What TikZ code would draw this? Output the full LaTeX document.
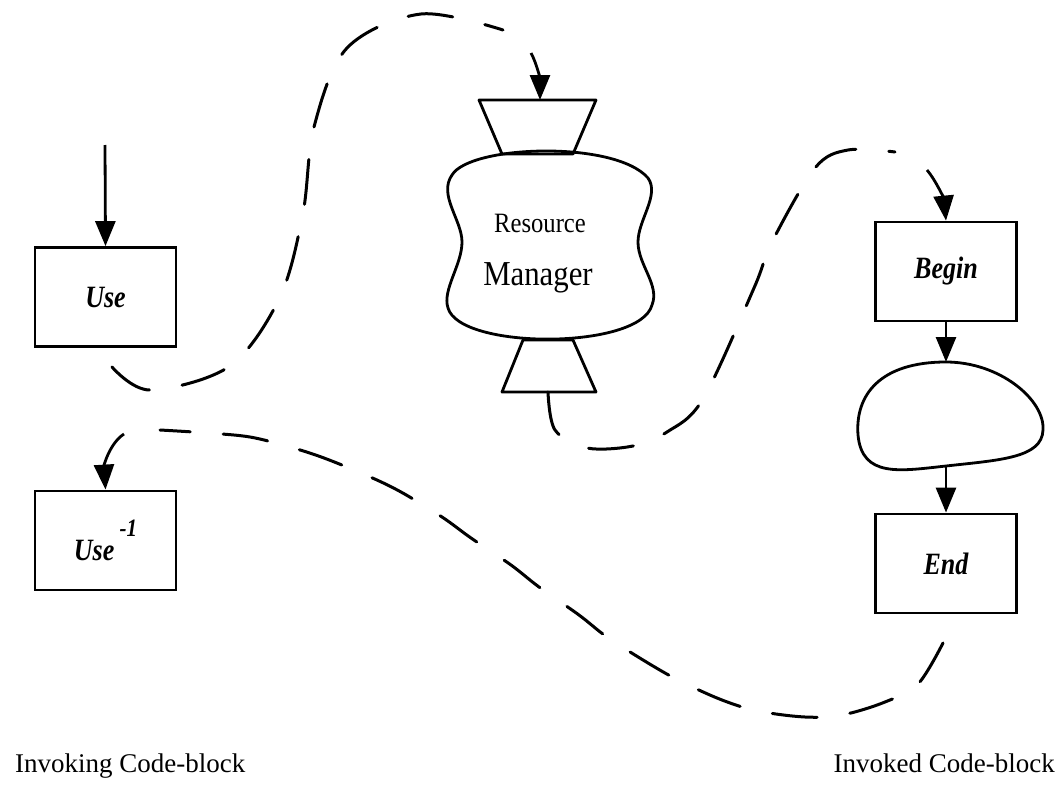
\documentclass[tikz,border=0pt]{standalone}
\usepackage{fontspec}
\setmainfont{Liberation Serif}
\newfontfamily\condserif[FakeStretch=0.88]{Liberation Serif}
\newfontfamily\boxserif[FakeStretch=0.84]{Liberation Serif}
\usetikzlibrary{arrows.meta}
\begin{document}
\begin{tikzpicture}[x=1pt,y=-1pt,
  every node/.style={inner sep=0pt},
  codebox/.style={draw,line width=2.8pt,minimum width=141pt,minimum height=99pt,
    font=\boxserif\bfseries\itshape\fontsize{31}{31}\selectfont},
  flow/.style={line width=2.8pt,-{Triangle[length=25pt,width=20pt]}},
  dashline/.style={line width=3pt,dash pattern=on 45pt off 33pt,line cap=round},
  shapeline/.style={line width=2.8pt,line join=round},
  caption/.style={font=\fontsize{27}{27}\selectfont},
  rmsmall/.style={font=\condserif\fontsize{28}{28}\selectfont},
  rmlarge/.style={font=\condserif\fontsize{35}{35}\selectfont}]
\useasboundingbox[fill=white] (0,0) rectangle (1058,787);

% boxes
\node[codebox] (use) at (105.5,297) {Use};
\node[codebox] (useinv) at (105.5,540.5) {Use\,\raisebox{24pt}{\fontsize{25}{25}\selectfont -1}};
\node[codebox] (begin) at (946,271.5) {Begin};
\node[codebox] (end) at (946,563.5) {End};

% resource manager
\draw[shapeline] (479,100) -- (596,100) -- (573,154) -- (502,154) -- cycle;
\draw[shapeline] (523,340) -- (573,340) -- (596,392) -- (502,392) -- cycle;
\draw[shapeline] (452,175) .. controls (470,145) and (615,140) .. (648,178)
  .. controls (660,195) and (638,220) .. (638,242)
  .. controls (638,265) and (660,285) .. (652,305)
  .. controls (640,350) and (460,350) .. (448,308)
  .. controls (442,290) and (462,265) .. (462,242)
  .. controls (462,220) and (438,195) .. (452,175) -- cycle;
\node[rmsmall,anchor=base] (rmA) at (540,232) {Resource};
\node[rmlarge,anchor=base] (rmB) at (538,285) {Manager};
\coordinate (rmin) at (540,100);
\coordinate (rmout) at (548,392);

% process blob
\draw[shapeline] (946,362) .. controls (1000,362) and (1045,400) .. (1043,430)
  .. controls (1042,458) and (1000,460) .. (946,466)
  .. controls (900,471) and (862,478) .. (858,435)
  .. controls (855,395) and (880,362) .. (946,362) -- cycle;
\coordinate (blobtop) at (946,362);
\coordinate (blobbot) at (946,467);

% solid flow arrows
\coordinate (usesrc) at (105,145);
\draw[flow] (usesrc) -- (use.north);
\draw[flow] (begin.south) -- (blobtop);
\draw[flow] (blobbot) -- (end.north);

% dashed path A: Use -> Resource Manager
\coordinate (a0) at (112,367);
\coordinate (a1) at (531,53);
\draw[dashline] plot[smooth,tension=0.55] coordinates {(a0) (150,390) (230,366) (280,297) (303,213) (314,127) (347,48) (421,14) (503,30)};
\draw[flow] (a1) .. controls (537,64) and (540,80) .. (rmin);

% dashed path B: Resource Manager -> Begin
\coordinate (b1) at (927,170);
\draw[dashline] plot[smooth,tension=0.55] coordinates {(rmout) (555,430) (587,448) (633,446) (667,432) (703,399) (754,288) (772,242) (815,168) (848,150) (895,152)};
\draw[flow] (b1) .. controls (937,182) and (944,200) .. (begin.north);

% dashed path C: End -> Use^-1
\coordinate (c0) at (943,643);
\coordinate (c1) at (124,434);
\draw[dashline] plot[smooth,tension=0.55] coordinates {(c0) (918,684) (885,702) (842,715) (805,717) (758,711) (722,700) (680,681) (648,663) (607,637) (579,615) (539,587) (511,565) (471,538) (442,517) (401,492) (368,476) (324,458) (290,447) (250,437) (208,433) (160,430)};
\draw[flow] (c1) .. controls (110,443) and (104,465) .. (useinv.north);

% captions
\node[caption,anchor=base west] (capL) at (15,772) {Invoking Code-block};
\node[caption,anchor=base east] (capR) at (1055,772) {Invoked Code-block};
\end{tikzpicture}
\end{document}
